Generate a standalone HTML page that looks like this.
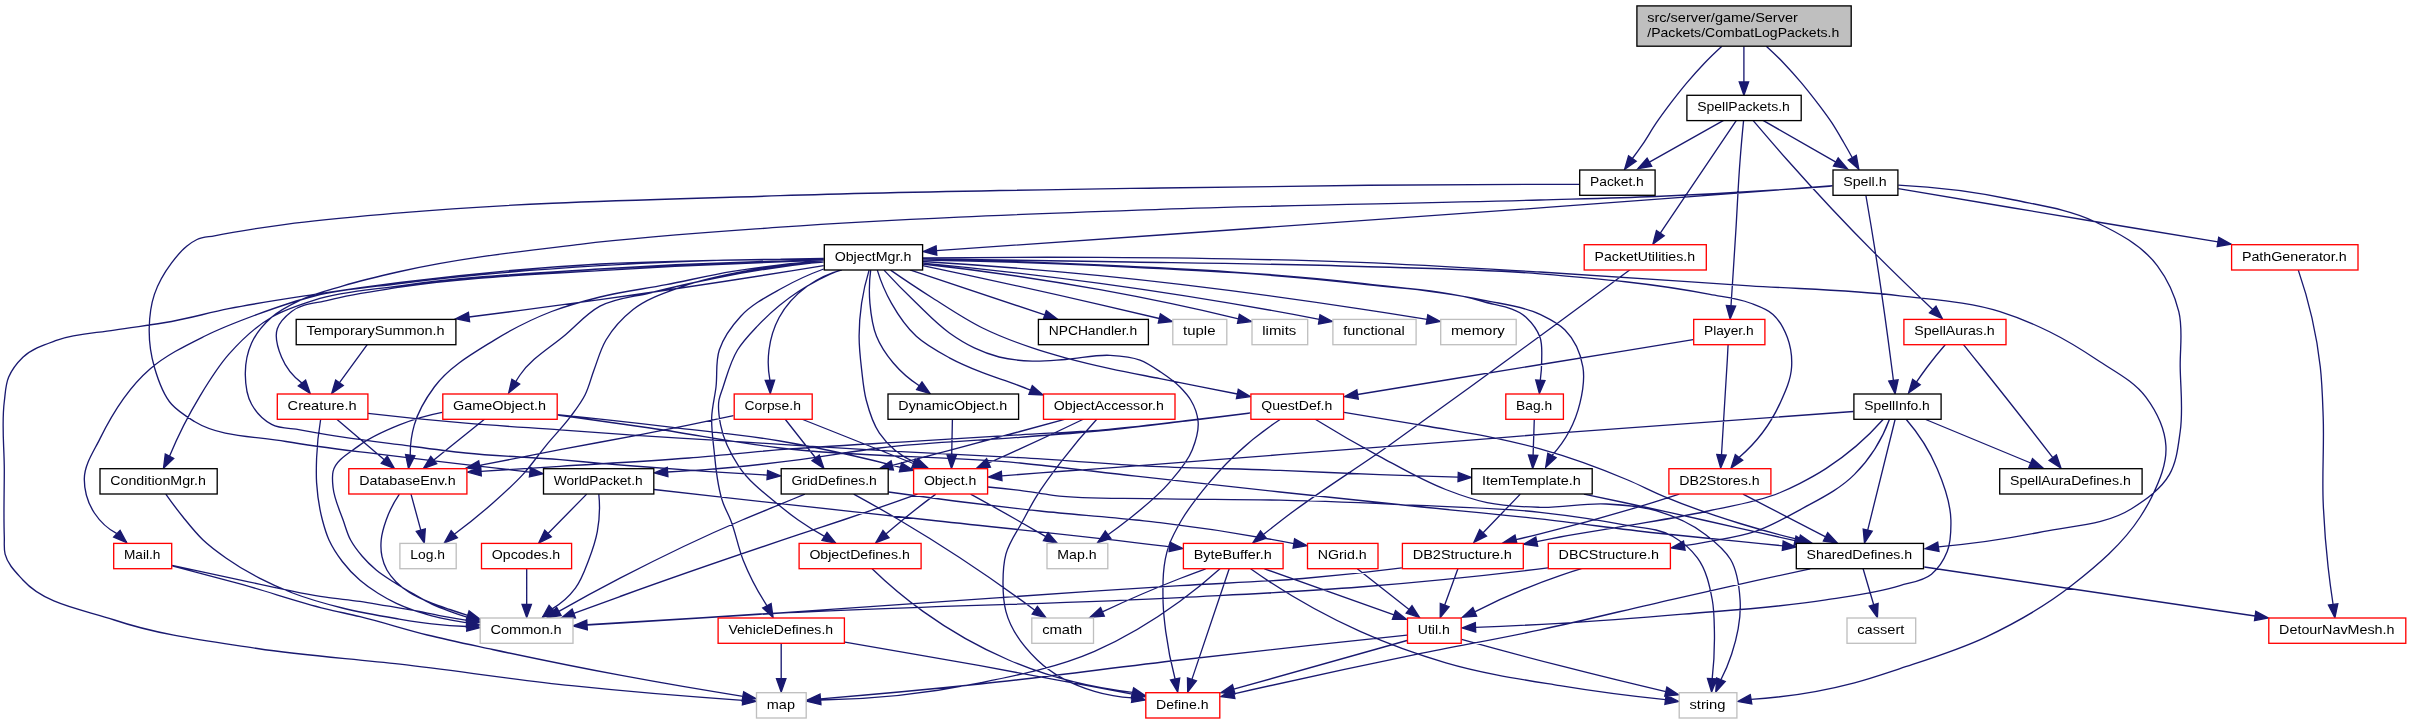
<!DOCTYPE html><html><head><meta charset="utf-8"><style>html,body{margin:0;padding:0;background:#fff}svg{display:block;will-change:transform}</style></head><body><svg width="2411" height="724" viewBox="0 0 2411 724">
<rect width="2411" height="724" fill="#fff"/>
<path d="M1721.9,46.2C1715.9,51.7 1710.0,57.3 1704.4,63.2C1698.4,69.5 1692.6,76.0 1687.0,82.6C1681.7,88.9 1676.6,95.4 1671.6,101.9C1666.3,108.9 1661.0,115.9 1656.1,123.2C1651.4,130.1 1647.3,137.5 1642.6,144.4C1639.3,149.2 1635.9,153.9 1632.4,158.5 M1743.9,46.2L1743.9,81.9 M1766.3,46.2C1772.3,51.7 1778.2,57.3 1783.8,63.2C1789.8,69.5 1795.6,76.0 1801.2,82.6C1806.5,88.9 1811.6,95.4 1816.6,101.9C1821.9,108.9 1827.3,115.9 1832.1,123.2C1836.2,129.5 1839.9,136.0 1843.7,142.5C1846.6,147.5 1849.5,152.6 1852.3,157.7 M1723.6,120.4L1649.4,162.2 M1763.0,120.4L1835.9,162.1 M1736.4,120.4L1660.3,233.1 M1743.6,120.4C1742.3,133.6 1741.1,146.8 1740.1,160.0C1738.2,183.8 1737.3,207.7 1735.8,231.5C1734.3,256.2 1732.6,281.0 1731.0,305.7 M1753.0,120.4C1764.3,133.7 1775.7,146.9 1787.3,160.0C1815.9,192.3 1845.4,223.8 1875.9,254.4C1894.5,273.1 1913.5,291.4 1932.7,309.4 M1579.2,184.3C1566.1,184.3 1553.1,184.3 1540.0,184.3C1413.3,184.4 1286.7,186.1 1160.0,188.0C1033.3,189.9 906.6,191.6 780.0,195.7C653.3,199.9 526.3,201.9 400.0,212.9C361.9,216.2 323.8,219.1 285.9,224.3C262.0,227.6 238.1,231.0 214.4,235.8C208.6,237.0 202.4,237.0 197.0,239.5C193.4,241.2 190.1,243.6 187.0,246.0C181.0,250.7 176.2,256.8 171.6,262.9C164.4,272.5 158.2,283.1 154.4,294.4C150.7,305.4 149.4,317.1 149.2,328.7C149.0,341.6 150.8,354.8 154.4,367.2C158.2,380.3 162.6,394.1 171.6,404.3C177.9,411.4 186.3,416.5 194.4,421.5C221.1,437.7 255.2,436.0 285.9,441.5C318.0,447.2 350.5,450.6 382.9,454.7C410.5,458.2 438.1,461.3 465.7,464.6C487.1,467.1 508.6,469.7 530.0,472.1 M1832.5,185.7C1738.3,193.1 1644.2,200.2 1550.0,207.2C1420.0,216.8 1290.0,225.9 1160.0,235.0C1085.5,240.2 1011.0,245.4 936.5,250.6 M1832.5,186.0C1773.6,190.5 1714.6,194.0 1655.5,196.5C1617.0,198.1 1578.5,198.9 1540.0,200.0C1413.3,203.7 1286.6,204.9 1160.0,209.4C1033.3,213.9 906.5,218.1 780.0,227.2C713.3,232.0 646.4,236.3 580.0,244.3C519.7,251.5 459.2,258.1 400.0,271.5C380.9,275.8 361.8,280.2 343.1,285.8C328.7,290.1 313.8,293.6 300.2,300.1C290.2,304.9 279.9,309.8 271.6,317.2C263.5,324.4 256.1,333.1 251.6,343.0C247.2,352.7 245.2,363.7 245.3,374.4C245.4,384.6 246.7,395.4 251.6,404.3C256.2,412.6 263.3,419.9 271.6,424.4C280.1,428.9 290.5,428.1 300.0,429.8C314.3,432.4 328.7,435.0 343.1,437.2C361.8,440.1 380.6,442.3 399.4,444.7C421.5,447.6 443.5,450.7 465.7,453.0C497.0,456.2 528.6,457.1 560.0,459.7C575.4,461.0 590.9,462.5 606.3,463.8C639.4,466.6 672.5,469.1 705.7,471.3C726.2,472.7 746.8,473.9 767.3,475.1 M1865.9,195.5C1870.5,221.8 1874.8,248.1 1878.8,274.4C1883.5,305.2 1887.7,336.1 1891.7,367.0C1892.3,371.5 1892.9,376.0 1893.4,380.5 M1898.3,185.2C1937.3,187.0 1976.2,192.0 2014.4,200.0C2041.4,205.7 2069.5,209.6 2094.4,221.5C2117.6,232.5 2142.0,245.2 2157.4,265.8C2167.5,279.3 2174.8,295.2 2178.8,311.6C2183.2,329.5 2179.9,348.5 2180.2,367.0C2180.5,388.5 2183.3,410.2 2180.2,431.5C2178.1,446.1 2176.8,461.6 2169.5,474.4C2161.0,489.2 2145.9,499.6 2131.5,508.7C2105.7,525.0 2072.8,525.5 2043.0,531.6C2008.5,538.7 1973.5,543.8 1938.4,546.8 M1898.3,188.6C1963.7,199.7 2029.0,210.6 2094.4,221.5C2135.6,228.3 2176.8,235.2 2218.0,241.9 M823.8,258.5C809.2,258.7 794.6,259.0 780.0,259.3C720.0,260.5 659.9,260.6 600.0,264.0C533.2,267.8 466.4,274.0 400.0,282.4C371.4,286.0 342.9,290.0 314.5,294.4C285.8,298.8 257.1,303.0 228.7,308.7C209.6,312.5 190.8,317.9 171.6,321.5C152.6,325.0 133.4,327.0 114.4,330.1C95.3,333.2 75.4,333.5 57.2,340.1C45.2,344.5 32.2,348.5 22.9,357.3C17.0,363.0 11.8,369.7 8.6,377.3C5.4,384.9 5.4,393.4 4.3,401.5C1.4,424.1 4.3,447.2 4.3,470.0C4.3,492.3 3.5,514.7 4.3,537.0C4.5,542.7 3.7,548.6 5.1,554.2C7.6,564.3 15.9,572.2 22.9,580.0C45.2,604.7 82.9,609.4 114.4,620.0C160.4,635.5 209.3,641.1 257.3,648.5C304.6,655.8 352.5,658.6 400.0,664.2C457.3,670.9 514.3,679.7 571.6,685.7C628.5,691.7 685.6,696.5 742.7,700.3 M823.8,259.0C749.2,258.8 674.5,261.1 600.0,265.6C533.2,269.7 466.4,274.9 400.0,283.5C371.4,287.2 342.5,289.1 314.5,296.0C295.1,300.8 276.1,307.5 257.3,314.4C239.6,320.9 221.9,327.6 205.0,336.0C185.9,345.5 166.2,355.0 150.0,369.0C128.4,387.7 112.6,413.0 100.0,438.6C93.7,451.5 84.5,464.3 84.3,478.7C84.2,490.6 87.9,503.0 94.4,513.0C100.0,521.5 107.9,528.9 116.9,533.7 M823.8,260.2C749.2,261.4 674.5,264.3 600.0,269.0C533.2,273.2 466.2,276.4 400.0,285.8C371.4,289.9 342.1,291.4 314.5,300.1C299.8,304.7 284.9,309.4 271.6,317.2C255.3,326.8 241.2,340.2 228.7,354.4C217.6,367.0 208.8,381.5 200.1,395.8C188.4,415.1 178.1,435.4 169.5,456.2 M823.8,260.7C749.1,262.5 674.5,265.8 600.0,270.6C533.2,274.9 466.1,277.0 400.0,287.2C376.2,290.9 352.1,294.0 328.8,300.1C316.3,303.4 301.8,303.5 291.6,311.5C285.7,316.1 279.7,321.6 277.3,328.7C274.2,337.8 277.9,348.4 281.6,357.3C285.8,367.4 293.1,376.7 302.0,383.1 M823.7,265.6C749.3,277.8 674.7,289.2 600.0,299.6C556.4,305.7 512.7,311.5 469.0,317.0 M823.7,261.0C793.2,263.0 762.8,266.5 732.6,271.4C710.4,275.0 688.4,280.4 666.3,284.7C644.2,289.0 621.8,291.5 600.0,297.0C583.7,301.1 567.3,305.5 551.6,311.5C531.7,319.2 512.5,328.9 494.4,340.1C472.8,353.5 449.4,366.6 434.3,387.0C425.8,398.5 418.2,411.2 414.3,424.9C411.5,434.7 410.1,445.0 410.3,455.2 M823.7,261.5C787.6,265.4 751.6,270.9 716.0,278.0C693.8,282.4 671.7,287.5 649.7,293.0C633.1,297.1 615.1,298.1 600.0,306.2C587.0,313.2 577.1,324.8 565.8,334.4C550.3,347.6 531.4,358.1 520.0,375.0C518.5,377.2 517.1,379.4 515.8,381.7 M823.7,262.0C798.7,263.2 773.7,266.1 749.0,270.5C726.7,274.5 704.2,278.6 682.9,286.3C665.7,292.5 647.4,298.1 633.1,309.5C622.4,318.0 612.9,328.3 606.0,340.0C600.5,349.3 597.8,359.9 594.0,370.0C590.9,378.3 589.0,387.1 585.0,395.0C581.0,403.0 575.4,410.0 570.1,417.2C562.6,427.2 553.7,436.1 545.8,445.8C538.1,455.2 531.2,465.4 523.0,474.4C513.7,484.6 503.3,493.8 492.9,503.0C480.5,514.0 467.6,524.4 454.3,534.2 M823.7,269.0C809.4,274.2 795.6,280.6 782.3,288.0C767.7,296.2 752.2,303.9 740.8,316.2C731.7,326.0 723.5,337.3 719.3,350.0C715.4,361.8 717.5,374.7 716.0,387.0C714.8,397.1 712.1,407.0 711.7,417.2C711.3,428.1 712.8,438.9 714.0,449.7C715.9,467.6 716.9,486.1 723.1,503.0C725.2,508.8 728.3,514.3 730.6,520.0C735.8,532.9 737.9,547.0 743.1,559.9C749.5,575.9 757.6,591.3 767.0,605.8 M840.3,269.8C825.8,275.5 811.8,282.8 798.8,291.3C783.7,301.2 769.8,313.0 757.4,326.1C750.3,333.6 742.9,341.2 737.5,350.0C730.6,361.3 727.3,374.4 723.1,387.0C721.7,391.3 719.8,395.5 719.0,400.0C717.5,408.2 719.0,416.7 720.6,424.9C723.4,439.7 730.5,453.7 738.8,466.3C749.3,482.2 765.3,493.9 780.0,506.0C785.9,510.9 791.9,515.6 798.2,520.0C806.6,525.9 815.4,531.4 824.5,536.3 M842.0,269.8C829.5,273.0 817.5,278.7 807.1,286.3C795.8,294.6 785.6,305.4 779.0,317.8C773.7,327.7 770.4,338.9 769.0,350.0C767.7,360.0 768.0,370.3 769.9,380.2 M869.1,270.1C865.8,280.9 863.3,291.9 861.6,303.1C860.0,314.1 859.1,325.2 859.1,336.3C859.1,347.4 860.3,358.4 861.6,369.4C862.8,379.6 863.6,390.0 866.2,400.0C869.2,411.5 872.7,423.3 879.4,433.1C888.3,446.1 901.6,456.9 916.2,462.9 M870.7,270.1C869.2,281.0 869.0,292.1 869.9,303.1C870.9,314.3 872.3,325.8 876.5,336.3C880.4,346.0 886.4,354.8 893.1,362.8C900.6,371.7 909.5,379.5 919.3,385.8 M877.3,270.1C880.8,281.6 885.5,292.7 891.4,303.1C898.2,315.1 906.2,326.9 916.3,336.3C926.0,345.2 937.8,351.5 949.4,357.8C960.1,363.6 971.3,368.2 982.6,372.7C993.5,377.0 1004.8,380.2 1015.7,384.3C1020.7,386.2 1025.7,388.1 1030.6,390.1 M884.0,270.1C894.4,281.4 905.2,292.4 916.3,303.1C927.0,313.4 937.3,324.4 949.4,333.0C957.3,338.6 965.6,343.8 974.3,347.9C982.3,351.7 990.6,354.8 999.1,357.0C1009.9,359.8 1021.2,360.7 1032.3,361.1C1043.3,361.5 1054.4,360.2 1065.4,359.5C1080.3,358.5 1095.1,354.5 1110.0,355.3C1120.1,355.9 1130.5,356.5 1140.0,360.1C1147.2,362.8 1153.6,367.3 1160.0,371.6C1167.0,376.3 1174.1,381.0 1180.0,387.0C1183.9,391.0 1187.8,395.2 1190.7,400.0C1194.6,406.5 1197.4,414.0 1198.1,421.5C1199.0,431.1 1195.8,440.8 1192.3,449.7C1187.4,462.3 1177.9,472.6 1169.1,482.9C1157.1,497.0 1142.2,508.5 1127.7,520.0C1121.3,525.1 1114.7,530.0 1108.0,534.7 M890.6,270.1C904.5,279.8 918.6,289.1 932.9,298.2C949.2,308.5 965.3,319.5 982.6,328.0C998.6,335.9 1015.4,342.2 1032.3,347.9C1043.2,351.6 1054.3,354.8 1065.4,357.8C1080.2,361.8 1095.1,365.3 1110.0,368.6C1126.6,372.3 1143.3,375.3 1160.0,378.6C1185.8,383.7 1211.6,388.9 1237.4,394.0 M909.9,269.8L1044.8,314.9 M922.7,265.6C981.9,278.0 1041.0,291.0 1100.0,304.6C1119.8,309.2 1139.6,313.8 1159.3,318.5 M922.7,264.0C982.1,270.5 1041.2,279.1 1100.0,289.7C1146.4,298.1 1192.6,307.8 1238.5,318.8 M922.7,263.1C981.9,268.6 1041.1,275.4 1100.0,283.4C1173.4,293.4 1246.5,305.4 1319.3,319.3 M922.7,261.5C981.9,265.1 1041.0,269.8 1100.0,275.6C1186.9,284.2 1273.6,295.7 1360.0,308.8C1382.4,312.2 1404.7,315.7 1427.1,319.4 M922.7,260.0C981.8,260.9 1040.9,262.8 1100.0,265.6C1186.8,269.7 1273.7,273.6 1360.0,283.9C1401.2,288.8 1443.4,289.5 1483.1,301.5C1497.7,305.9 1514.9,306.8 1526.0,317.2C1532.0,322.8 1537.3,329.6 1540.0,337.3C1542.5,344.5 1541.7,352.4 1541.7,360.0C1541.7,366.8 1541.2,373.5 1540.3,380.2 M922.7,259.5C981.8,260.4 1040.9,262.2 1100.0,265.0C1186.8,269.0 1273.7,273.1 1360.0,283.1C1401.1,287.9 1442.6,291.4 1483.1,300.1C1502.2,304.2 1522.4,305.8 1540.0,314.4C1548.8,318.7 1558.1,323.0 1565.0,330.0C1574.6,339.7 1580.6,353.5 1582.9,367.0C1584.9,378.8 1582.8,391.2 1580.0,402.9C1575.4,422.2 1565.4,440.9 1552.0,455.5 M922.7,258.8C981.8,259.6 1040.9,260.5 1100.0,261.5C1186.7,263.0 1273.4,263.7 1360.0,266.5C1420.0,268.4 1480.2,268.9 1540.0,273.8C1596.9,278.5 1654.0,283.4 1710.0,294.4C1723.4,297.0 1737.3,298.1 1750.0,303.0C1758.0,306.1 1766.6,308.7 1773.0,314.4C1779.7,320.4 1784.1,328.9 1787.3,337.3C1790.8,346.7 1792.2,357.0 1791.6,367.0C1790.9,379.5 1785.4,391.5 1780.2,402.9C1770.8,423.6 1756.4,442.7 1739.0,457.5 M922.7,258.0C981.8,257.3 1040.9,257.1 1100.0,257.4C1186.7,257.9 1273.4,259.0 1360.0,262.4C1420.0,264.8 1480.0,268.5 1540.0,272.0C1610.0,276.1 1680.0,281.2 1750.0,285.8C1800.0,289.1 1850.3,289.8 1900.0,295.8C1933.5,299.9 1967.8,301.4 2000.0,311.6C2017.2,317.0 2033.9,324.0 2050.0,332.0C2066.4,340.1 2082.1,349.8 2097.3,360.0C2114.2,371.4 2133.8,380.8 2145.9,397.2C2156.3,411.3 2164.8,428.3 2165.9,445.8C2167.0,463.6 2159.3,481.3 2151.6,497.3C2148.3,504.1 2144.3,510.6 2140.2,517.0C2122.6,544.2 2097.0,565.6 2071.6,585.6C2045.3,606.2 2016.0,622.8 1985.8,637.1C1958.3,650.1 1928.9,659.0 1900.0,668.6C1884.9,673.6 1869.9,678.8 1854.5,682.8C1820.7,691.7 1785.9,697.2 1751.0,699.3 M1630.0,269.8C1603.4,289.5 1576.7,309.1 1550.0,328.7C1523.4,348.2 1496.9,367.6 1470.2,387.0C1443.1,406.7 1416.0,426.4 1388.7,445.8C1354.7,469.9 1318.9,491.7 1285.8,517.0C1278.3,522.8 1270.8,528.6 1263.4,534.5 M2298.3,270.1C2309.1,301.4 2316.6,334.1 2320.3,367.0C2322.2,383.7 2322.6,400.4 2323.2,417.2C2324.2,445.8 2322.0,474.4 2323.2,503.0C2324.1,524.4 2325.7,545.7 2328.1,567.0C2329.5,579.5 2331.2,592.1 2333.1,604.5 M367.4,344.3L339.5,382.7 M1693.2,339.6C1645.5,347.4 1597.7,355.2 1550.0,363.0C1485.8,373.5 1421.7,384.0 1357.5,394.5 M1728.1,344.7C1727.8,349.8 1727.6,354.9 1727.3,360.0C1725.6,391.6 1723.7,423.2 1721.5,454.8 M1945.2,344.7C1938.9,351.9 1932.9,359.4 1927.2,367.0C1923.5,372.0 1919.9,377.0 1916.4,382.1 M1963.5,344.7C1969.5,352.1 1975.5,359.6 1981.5,367.0C2005.6,397.0 2029.3,427.2 2052.8,457.6 M336.5,419.0L384.3,459.8 M320.7,419.0C318.5,431.9 317.1,444.9 316.6,458.0C316.3,466.3 316.1,474.6 316.6,482.9C317.4,495.4 319.2,507.9 322.4,520.0C324.2,526.8 326.1,533.6 329.0,540.0C332.5,547.7 337.2,554.8 342.3,561.5C347.5,568.3 353.5,574.7 360.0,580.3C365.6,585.1 371.7,589.4 378.0,593.3C383.8,596.9 389.7,600.3 395.9,603.2C401.7,606.0 407.8,608.3 413.9,610.4C419.8,612.5 425.8,614.2 431.8,615.8C437.7,617.4 443.8,618.6 449.8,619.8C455.6,620.9 461.4,621.9 467.2,622.8 M367.9,413.3C400.4,417.1 433.1,420.4 465.7,423.2C497.1,425.9 528.6,427.6 560.0,429.8C586.7,431.7 613.3,433.8 640.0,435.6C667.3,437.4 694.7,438.9 722.0,440.6C748.0,442.2 774.0,444.0 800.0,445.6C832.0,447.6 864.0,449.6 896.0,451.4C937.3,453.7 978.7,455.3 1020.0,457.7C1064.2,460.2 1108.4,464.2 1152.6,466.3C1195.0,468.3 1237.5,468.8 1280.0,470.4C1313.1,471.7 1346.3,473.4 1379.4,474.6C1405.6,475.6 1431.9,476.4 1458.1,477.1 M442.2,412.4C427.6,415.2 413.2,419.4 399.4,424.9C385.0,430.7 370.3,436.9 358.0,446.4C348.7,453.5 335.9,459.9 333.1,471.3C331.8,476.6 332.6,482.3 333.1,487.8C334.2,499.0 339.4,509.4 343.1,520.0C345.5,526.7 347.2,533.7 350.6,540.0C353.7,545.8 357.8,551.0 362.0,556.0C366.3,561.1 371.1,565.7 376.2,570.0C382.3,575.1 389.2,579.2 395.9,583.5C401.8,587.2 407.8,590.7 413.9,594.2C419.8,597.6 425.6,601.2 431.8,604.1C437.6,606.9 443.7,609.1 449.8,611.3C455.7,613.5 461.7,615.5 467.7,617.3 M484.8,419.0L433.8,460.1 M557.4,414.6C595.8,418.5 634.2,422.7 672.6,427.3C708.4,431.6 744.4,434.9 780.0,441.0C803.5,445.0 826.8,449.8 850.0,455.0C866.9,458.8 883.7,462.9 900.5,467.3 M557.4,415.0C588.3,419.2 619.2,423.5 650.0,428.0C693.4,434.3 736.5,442.7 780.0,448.0C859.6,457.7 940.2,455.3 1020.0,463.0C1058.7,466.8 1097.3,471.9 1136.0,476.2C1184.0,481.6 1232.0,486.8 1280.0,492.0C1324.2,496.8 1368.4,501.4 1412.6,506.0C1455.1,510.4 1497.6,514.2 1540.0,518.9C1578.7,523.2 1617.3,528.8 1656.0,533.0C1683.6,536.0 1711.2,538.5 1738.8,541.3C1753.5,542.8 1768.1,544.3 1782.8,545.8 M733.5,415.7C702.2,422.3 670.8,428.7 639.4,434.8C613.0,439.9 586.4,444.6 560.0,449.7C533.2,454.8 506.4,460.0 479.6,465.4 M785.0,419.0L815.7,458.0 M801.5,419.0L913.4,463.5 M952.4,419.5L951.7,455.1 M1065.6,419.0C1050.4,423.2 1035.2,427.4 1020.0,431.5C995.3,438.2 970.5,444.8 945.7,451.4C927.9,456.1 910.1,460.8 892.3,465.4 M1083.8,419.0C1062.7,429.2 1041.4,439.2 1020.0,448.9C1009.5,453.7 999.1,458.3 988.5,463.0 M1097.0,419.0C1084.5,432.5 1072.6,446.7 1061.4,461.3C1052.7,472.6 1044.1,484.0 1036.6,496.1C1031.8,503.9 1027.6,512.0 1023.3,520.0C1017.3,531.3 1009.2,541.8 1005.9,554.2C1003.4,563.5 1003.0,573.4 1003.0,583.0C1003.0,592.5 1003.5,602.2 1005.9,611.4C1010.8,630.1 1023.4,646.6 1037.3,660.0C1053.0,675.1 1073.7,685.2 1094.5,691.4C1106.7,695.1 1119.5,697.2 1132.3,697.8 M1250.3,412.9C1228.8,415.6 1207.2,418.2 1185.7,420.7C1158.1,423.9 1130.6,427.4 1102.9,429.8C1075.3,432.1 1047.6,433.1 1020.0,434.8C984.2,437.0 948.4,439.2 912.6,441.4C868.4,444.1 824.1,446.2 780.0,449.7C749.7,452.1 719.4,455.6 689.1,458.0C646.1,461.4 603.0,463.6 560.0,466.3C533.7,468.0 507.3,469.6 481.0,471.3 M1250.3,413.0C1228.8,415.8 1207.2,418.4 1185.7,421.0C1158.1,424.3 1130.5,427.8 1102.9,430.5C1075.3,433.2 1047.6,435.1 1020.0,437.3C973.1,441.0 926.1,442.3 879.4,448.0C852.8,451.2 826.5,456.3 800.0,459.7C768.6,463.7 737.2,467.2 705.7,469.6C693.0,470.6 680.3,471.4 667.6,472.0 M1280.1,419.5C1264.2,429.9 1249.2,441.7 1235.4,454.7C1223.5,466.0 1212.5,478.2 1202.3,491.1C1194.9,500.4 1187.6,509.8 1181.6,520.0C1176.8,528.2 1172.1,536.6 1168.9,545.6C1162.5,563.7 1162.6,583.6 1163.1,602.8C1163.4,612.4 1164.5,621.9 1165.7,631.4C1167.8,647.4 1170.9,663.3 1175.1,679.0 M1314.8,419.0C1336.0,432.1 1357.5,444.5 1379.4,456.3C1401.2,468.0 1422.6,480.7 1445.7,489.5C1459.2,494.7 1472.9,499.7 1487.1,502.7C1504.4,506.4 1522.3,506.8 1540.0,507.3C1562.1,507.9 1584.2,502.8 1606.3,504.0C1623.0,504.9 1640.0,506.0 1656.0,510.7C1673.7,515.9 1691.1,523.5 1705.7,534.7C1715.0,541.8 1724.6,549.4 1730.6,559.5C1737.6,571.4 1739.2,586.2 1740.1,600.0C1741.3,618.2 1737.3,636.8 1731.6,654.2C1728.7,663.0 1725.2,671.5 1720.9,679.7 M1344.1,412.4C1372.5,417.0 1400.8,421.7 1429.1,426.5C1451.2,430.3 1473.5,433.4 1495.4,438.1C1510.4,441.3 1525.3,444.8 1540.0,448.9C1569.9,457.2 1599.2,467.9 1627.8,480.0C1640.1,485.2 1652.0,491.4 1664.3,496.6C1689.0,507.0 1714.4,515.6 1740.0,523.5C1759.5,529.5 1779.3,534.9 1799.2,539.7 M1534.3,419.0L1533.1,455.1 M1853.4,411.5C1755.6,418.2 1657.8,425.3 1560.0,432.9C1510.9,436.7 1461.7,440.9 1412.6,444.7C1368.4,448.1 1324.2,451.3 1280.0,454.7C1237.5,458.0 1195.1,461.4 1152.6,464.6C1130.5,466.3 1108.4,468.0 1086.3,469.6C1070.9,470.7 1055.4,471.7 1040.0,472.9C1027.2,473.9 1014.4,474.9 1001.7,475.9 M1883.1,419.5C1866.5,438.3 1847.0,455.0 1825.9,468.6C1817.5,474.0 1808.8,478.8 1800.0,483.3C1793.5,486.6 1787.0,489.7 1780.3,492.5C1756.6,502.4 1730.8,506.0 1705.7,511.5C1678.3,517.5 1650.5,521.6 1622.9,526.4C1602.0,530.0 1580.9,533.0 1560.0,537.0C1552.2,538.5 1544.5,540.0 1536.7,541.6 M1889.4,419.5C1881.9,439.9 1869.8,459.0 1854.5,474.4C1839.3,489.8 1819.0,499.3 1800.0,509.8C1785.5,517.8 1771.0,526.0 1755.4,531.4C1739.4,536.9 1722.4,539.1 1705.7,542.1C1698.6,543.4 1691.5,544.6 1684.3,545.7 M1895.1,419.5L1867.7,530.1 M1906.3,419.5C1919.0,434.1 1929.6,450.9 1937.2,468.7C1944.2,485.0 1950.5,502.4 1950.9,520.1C1951.1,530.7 1951.1,541.8 1947.2,551.6C1943.8,560.1 1938.6,568.4 1931.5,574.2C1922.9,581.3 1910.7,582.3 1900.0,585.6C1876.0,593.0 1850.7,595.9 1825.9,599.9C1778.6,607.5 1730.7,610.1 1683.0,614.2C1642.0,617.7 1601.0,621.0 1560.0,623.4C1531.8,625.0 1503.7,626.3 1475.5,627.3 M1925.7,419.5L2030.7,463.0 M165.8,494.1C171.3,501.9 177.0,509.6 183.0,517.0C189.4,524.9 195.7,533.0 203.1,540.0C210.2,546.8 218.3,552.6 226.3,558.2C236.8,565.6 248.0,572.2 259.4,578.1C270.2,583.7 281.3,588.6 292.6,593.0C308.7,599.2 325.5,603.8 342.3,608.0C360.0,612.4 377.9,615.5 395.9,618.5C407.8,620.5 419.8,622.6 431.8,623.9C443.5,625.2 455.3,626.1 467.0,626.5 M411.0,494.1L420.8,530.2 M399.4,494.1C393.9,502.1 389.4,510.9 386.2,520.0C383.9,526.5 381.8,533.2 381.2,540.0C380.7,545.5 380.8,551.2 382.0,556.6C383.0,561.3 384.6,565.8 386.9,570.0C389.3,574.3 392.5,578.2 395.9,581.7C399.9,585.8 404.6,589.3 409.4,592.4C416.3,596.9 424.1,600.1 431.8,603.2C437.7,605.6 443.8,607.5 449.8,609.5C455.7,611.5 461.7,613.5 467.7,615.4 M586.7,494.1L548.0,533.5 M598.8,494.1C600.1,506.5 599.6,519.3 597.3,531.6C595.5,541.3 592.2,550.8 588.7,560.0C585.0,569.7 581.6,579.9 575.4,588.2C569.2,596.5 561.2,603.6 552.2,608.9 M654.0,489.5C696.0,494.2 738.0,498.9 780.0,503.6C829.7,509.1 879.4,514.5 929.1,520.0C1006.1,528.5 1083.2,535.9 1160.0,545.6C1163.2,546.0 1166.5,546.4 1169.7,546.8 M804.9,494.1C796.6,497.5 788.3,501.0 780.0,504.4C767.4,509.6 754.7,514.6 742.2,520.0C700.7,537.7 660.0,557.4 620.0,578.2C599.4,588.9 579.1,599.9 558.9,611.4 M853.7,494.1C869.0,502.5 884.3,511.1 899.3,520.0C946.0,547.6 991.3,577.8 1034.8,610.2 M888.5,492.0C938.9,499.3 989.4,505.6 1040.0,511.0C1072.0,514.4 1104.0,516.5 1136.0,520.0C1144.0,520.9 1152.0,521.7 1160.0,522.7C1204.8,528.0 1249.5,535.0 1293.9,543.6 M917.5,494.1C892.8,503.0 867.9,511.6 843.0,520.0C828.7,524.8 814.3,529.4 800.0,534.2C739.8,554.3 679.7,574.9 620.0,596.5C604.6,602.1 589.2,607.7 573.8,613.4 M935.8,494.1C924.5,502.4 913.4,511.1 902.6,520.0C897.0,524.6 891.4,529.3 885.9,534.1 M970.6,494.1C986.1,502.6 1001.6,511.2 1017.0,520.0C1026.6,525.5 1036.2,531.0 1045.8,536.6 M988.0,487.0C998.7,487.9 1009.4,489.0 1020.0,490.3C1031.1,491.7 1042.0,494.0 1053.1,495.3C1086.0,499.3 1119.4,497.8 1152.6,498.6C1195.1,499.6 1237.5,499.1 1280.0,500.2C1324.2,501.3 1368.4,503.1 1412.6,505.2C1455.1,507.2 1497.7,507.6 1540.0,512.3C1567.8,515.4 1595.5,519.2 1622.9,524.7C1639.6,528.1 1657.9,527.7 1672.6,536.3C1682.1,541.8 1690.9,549.1 1697.4,557.9C1706.3,569.9 1709.6,585.4 1712.3,600.0C1714.2,610.3 1714.2,620.9 1714.4,631.4C1714.7,647.2 1714.0,663.0 1712.2,678.7 M1520.3,494.1L1483.1,532.8 M1583.9,494.1C1613.5,500.2 1643.1,506.6 1672.6,513.1C1695.1,518.1 1717.5,523.4 1740.0,528.4C1758.3,532.5 1776.7,536.6 1795.0,540.6 M1679.2,494.1C1633.3,509.1 1586.9,522.4 1540.0,533.9C1532.0,535.9 1524.0,537.8 1516.0,539.6 M1743.0,494.1L1825.6,536.9 M172.1,565.3C195.7,570.6 219.3,575.7 242.9,580.6C270.5,586.4 297.8,593.2 325.7,597.2C337.1,598.9 348.6,599.7 360.0,601.4C369.0,602.7 377.9,604.4 386.9,605.9C395.9,607.4 404.9,608.8 413.9,610.4C422.9,612.1 431.8,614.1 440.8,615.8C449.6,617.4 458.4,618.9 467.2,620.3 M172.1,565.8C195.8,571.9 219.4,578.2 242.9,584.7C270.6,592.4 297.8,601.9 325.7,608.8C337.1,611.6 348.6,613.9 360.0,616.7C382.6,622.2 404.7,629.4 427.3,635.0C448.9,640.3 470.8,644.8 492.6,649.5C535.0,658.6 577.4,667.3 620.0,675.2C660.9,682.8 701.8,689.9 742.9,696.3 M526.7,568.8L526.7,604.3 M872.1,568.8C888.0,584.2 905.0,598.5 923.0,611.4C949.7,630.6 978.5,647.1 1008.7,660.0C1047.9,676.7 1090.1,687.7 1132.5,692.3 M1205.7,568.8C1197.1,571.9 1188.5,575.2 1180.0,578.5C1153.8,588.7 1127.9,599.9 1102.4,611.8 M1220.0,568.8C1207.2,580.3 1193.9,591.2 1180.0,601.3C1153.3,620.8 1124.8,638.2 1094.5,651.4C1058.2,667.2 1018.9,675.0 980.1,682.8C927.6,693.4 874.0,699.2 820.4,700.0 M1229.2,568.8L1191.9,679.4 M1264.4,568.8L1394.0,614.9 M1250.6,568.8C1284.9,593.1 1321.7,614.2 1360.1,631.4C1387.9,643.9 1416.7,654.3 1445.9,662.8C1483.1,673.7 1521.7,679.4 1560.0,685.7C1595.0,691.5 1630.2,696.1 1665.5,699.7 M1357.3,568.8L1409.1,609.4 M1401.9,567.9C1369.0,572.2 1336.0,575.7 1303.0,578.5C1262.1,582.0 1221.0,583.1 1180.0,585.6C1046.6,593.6 913.4,604.4 780.0,612.8C726.7,616.2 673.3,619.3 620.0,622.6C609.0,623.3 598.0,624.0 587.0,624.7 M1548.0,567.9C1485.5,575.6 1422.8,582.0 1360.0,587.0C1300.1,591.8 1240.0,594.4 1180.0,597.6C1046.8,604.6 913.2,605.9 780.0,613.2C726.6,616.1 673.3,619.6 620.0,623.0C609.0,623.7 598.0,624.4 587.0,625.1 M1457.9,568.8L1444.7,605.1 M1581.4,568.7C1574.2,570.9 1567.1,573.2 1560.0,575.6C1530.8,585.6 1502.2,597.8 1474.7,611.9 M1810.2,568.8C1764.3,578.8 1718.4,588.9 1672.6,599.3C1628.4,609.3 1584.4,620.4 1540.0,629.9C1499.2,638.6 1458.1,645.8 1417.3,654.2C1356.0,666.8 1294.9,680.0 1233.9,693.8 M1863.1,568.8L1873.7,604.8 M1924.3,567.0L2255.1,616.0 M781.2,643.1L781.2,678.7 M844.9,642.2C890.0,649.8 935.0,657.6 980.0,665.7C1030.8,674.8 1081.6,684.3 1132.3,694.2 M1407.0,635.1C1331.3,643.0 1255.6,651.3 1180.0,660.0C1113.3,667.7 1046.8,677.0 980.0,684.0C926.9,689.6 873.7,694.5 820.4,698.8 M1407.0,640.5L1233.7,689.2 M1461.6,639.4C1494.3,648.5 1527.1,657.3 1560.0,665.7C1595.2,674.7 1630.4,683.4 1665.8,691.6" fill="none" stroke="#191970" stroke-width="1.33"/>
<path d="M1628.6,155.8L1624.6,169.3L1636.2,161.3Z M1739.2,81.9L1743.9,95.2L1748.6,81.9Z M1848.2,160.0L1858.8,169.3L1856.3,155.4Z M1647.1,158.1L1637.8,168.7L1651.7,166.2Z M1833.5,166.1L1847.4,168.7L1838.2,158.0Z M1656.5,230.5L1652.9,244.1L1664.2,235.7Z M1726.3,305.4L1730.1,319.0L1735.6,306.0Z M1929.5,312.8L1942.3,318.7L1936.0,306.1Z M529.4,476.8L543.2,473.7L530.5,467.5Z M936.1,245.9L923.2,251.5L936.8,255.2Z M767.0,479.7L780.6,475.9L767.6,470.4Z M1888.8,381.1L1895.1,393.7L1898.1,379.9Z M1937.7,542.2L1925.2,548.7L1939.0,551.4Z M2217.2,246.5L2231.1,244.1L2218.7,237.3Z M742.4,704.9L756.0,701.4L743.1,695.6Z M113.7,537.1L126.7,542.7L120.1,530.3Z M165.3,454.1L163.5,468.1L173.7,458.3Z M298.3,386.0L310.2,393.5L305.6,380.2Z M468.4,312.3L455.8,318.7L469.6,321.6Z M405.6,454.6L408.5,468.4L414.9,455.8Z M511.9,379.2L508.7,392.9L519.7,384.1Z M451.2,530.7L444.3,543.0L457.4,537.7Z M762.8,608.0L773.1,617.6L771.1,603.6Z M822.0,540.3L835.8,543.3L827.0,532.3Z M765.2,380.3L770.3,393.5L774.6,380.1Z M914.3,467.2L928.3,468.4L918.1,458.7Z M916.6,389.6L930.1,393.5L922.0,382.0Z M1028.9,394.4L1043.0,394.9L1032.3,385.7Z M1105.2,531.0L1097.4,542.7L1110.8,538.5Z M1236.4,398.6L1250.4,396.6L1238.3,389.4Z M1043.3,319.3L1057.4,319.1L1046.3,310.5Z M1158.3,323.0L1172.3,321.5L1160.4,313.9Z M1237.5,323.3L1251.5,321.5L1239.4,314.2Z M1318.5,324.0L1332.4,321.5L1320.0,314.7Z M1426.3,324.0L1440.2,321.5L1427.8,314.8Z M1535.7,379.9L1539.4,393.5L1545.0,380.6Z M1547.8,453.3L1545.7,467.2L1556.1,457.7Z M1735.3,454.7L1731.0,468.1L1742.7,460.3Z M1750.3,694.7L1737.9,701.4L1751.8,703.9Z M1260.5,530.8L1252.9,542.7L1266.3,538.2Z M2328.5,605.1L2334.9,617.7L2337.8,603.9Z M335.7,380.0L331.7,393.5L343.3,385.5Z M1356.8,389.8L1344.4,396.6L1358.3,399.1Z M1716.8,454.5L1720.7,468.1L1726.2,455.1Z M1912.6,379.4L1908.6,392.9L1920.2,384.8Z M2049.1,460.5L2061.0,468.1L2056.4,454.8Z M381.3,463.3L394.4,468.4L387.3,456.2Z M466.4,627.4L480.3,625.0L468.0,618.2Z M1458.0,481.7L1471.4,477.5L1458.3,472.4Z M466.2,621.7L480.3,621.5L469.2,612.9Z M430.8,456.4L423.4,468.4L436.7,463.7Z M899.4,471.8L913.4,470.4L901.6,462.8Z M1782.3,550.4L1796.0,547.1L1783.2,541.1Z M478.7,460.8L466.5,467.9L480.4,469.9Z M812.0,460.8L823.9,468.4L819.3,455.1Z M911.7,467.8L925.8,468.4L915.2,459.1Z M947.1,455.0L951.5,468.4L956.4,455.2Z M891.1,460.9L879.4,468.8L893.4,469.9Z M986.6,458.7L976.4,468.4L990.4,467.2Z M1131.5,702.4L1145.4,700.0L1133.1,693.2Z M480.7,466.6L467.7,472.1L481.3,475.9Z M667.3,467.4L654.3,472.9L667.9,476.7Z M1170.5,679.9L1177.7,692.0L1179.7,678.0Z M1716.6,677.9L1715.8,692.0L1725.2,681.5Z M1797.9,544.2L1812.0,543.2L1800.4,535.2Z M1528.5,455.0L1532.7,468.4L1537.8,455.3Z M1001.3,471.3L988.4,477.0L1002.0,480.6Z M1535.8,537.0L1523.7,544.2L1537.7,546.2Z M1683.5,541.1L1671.2,547.9L1685.1,550.3Z M1863.2,529.0L1864.5,543.0L1872.2,531.2Z M1475.3,622.6L1462.2,627.9L1475.7,632.0Z M2028.9,467.3L2043.0,468.1L2032.5,458.7Z M466.7,631.2L480.3,627.5L467.4,621.9Z M416.3,531.4L424.3,543.0L425.3,528.9Z M466.2,619.8L480.3,619.5L469.1,610.9Z M544.7,530.2L538.7,543.0L551.3,536.8Z M549.1,605.4L542.3,617.7L555.3,612.3Z M1169.1,551.5L1182.9,548.5L1170.3,542.2Z M556.7,607.3L547.2,617.7L561.1,615.5Z M1032.2,614.1L1045.9,617.6L1037.4,606.3Z M1293.1,548.2L1307.0,545.6L1294.6,538.9Z M572.2,609.0L561.3,618.0L575.4,617.8Z M882.9,530.5L875.8,542.7L889.0,537.7Z M1043.4,540.7L1057.3,543.3L1048.1,532.6Z M1707.5,678.5L1711.6,692.0L1716.9,678.9Z M1479.7,529.6L1473.9,542.4L1486.5,536.0Z M1794.0,545.2L1808.0,543.5L1796.0,536.1Z M1515.0,535.1L1503.1,542.7L1517.1,544.2Z M1823.4,541.0L1837.4,543.0L1827.7,532.7Z M466.4,624.9L480.3,622.5L468.0,615.7Z M742.1,700.9L756.0,698.6L743.7,691.7Z M522.0,604.3L526.7,617.6L531.4,604.3Z M1131.4,696.9L1145.4,695.7L1133.7,687.8Z M1100.6,607.6L1090.2,617.1L1104.3,616.1Z M819.9,695.3L807.2,701.4L820.9,704.6Z M1187.5,677.9L1187.7,692.0L1196.4,680.9Z M1392.4,619.3L1406.5,619.4L1395.5,610.5Z M1664.9,704.3L1678.7,701.4L1666.1,695.0Z M1406.2,613.1L1419.6,617.6L1412.0,605.7Z M586.7,620.0L573.7,625.5L587.3,629.3Z M586.7,620.5L573.7,626.0L587.3,629.8Z M1440.3,603.5L1440.2,617.6L1449.1,606.7Z M1472.9,607.6L1462.5,617.1L1476.6,616.2Z M1232.9,689.2L1220.9,696.6L1234.9,698.4Z M1869.2,606.1L1877.4,617.6L1878.1,603.5Z M2254.5,620.6L2268.3,617.9L2255.8,611.3Z M776.5,678.7L781.2,692.0L785.9,678.7Z M1131.5,698.7L1145.4,696.6L1133.2,689.6Z M820.0,694.1L807.2,700.0L820.9,703.4Z M1232.4,684.7L1220.9,692.8L1235.0,693.7Z M1664.7,696.2L1678.7,694.8L1666.9,687.1Z" fill="#191970" stroke="#191970" stroke-width="1.33"/>
<rect x="1636.9" y="5.9" width="214.3" height="40.3" fill="#bfbfbf" stroke="#000" stroke-width="1.33"/>
<g font-family="'Liberation Sans',sans-serif" font-size="13.2px" fill="#000">
<text x="1647.3" y="22" textLength="150.5" lengthAdjust="spacingAndGlyphs">src/server/game/Server</text>
<text x="1647.3" y="37" textLength="192" lengthAdjust="spacingAndGlyphs">/Packets/CombatLogPackets.h</text>
<rect x="1686.9" y="95.3" width="114.3" height="25.3" fill="#fff" stroke="#000000" stroke-width="1.33"/>
<text x="1743.5" y="111.0" text-anchor="middle" textLength="92.7" lengthAdjust="spacingAndGlyphs">SpellPackets.h</text>
<rect x="1579.7" y="170.0" width="75.4" height="25.3" fill="#fff" stroke="#000000" stroke-width="1.33"/>
<text x="1616.9" y="186.0" text-anchor="middle" textLength="53.8" lengthAdjust="spacingAndGlyphs">Packet.h</text>
<rect x="1833.0" y="170.0" width="64.9" height="25.3" fill="#fff" stroke="#000000" stroke-width="1.33"/>
<text x="1864.9" y="186.0" text-anchor="middle" textLength="43.3" lengthAdjust="spacingAndGlyphs">Spell.h</text>
<rect x="824.3" y="244.7" width="98.3" height="25.3" fill="#fff" stroke="#000000" stroke-width="1.33"/>
<text x="873.0" y="261.0" text-anchor="middle" textLength="76.7" lengthAdjust="spacingAndGlyphs">ObjectMgr.h</text>
<rect x="1584.2" y="244.7" width="122.1" height="25.3" fill="#fff" stroke="#ff0000" stroke-width="1.33"/>
<text x="1644.8" y="261.0" text-anchor="middle" textLength="100.5" lengthAdjust="spacingAndGlyphs">PacketUtilities.h</text>
<rect x="2231.6" y="244.7" width="126.4" height="25.3" fill="#fff" stroke="#ff0000" stroke-width="1.33"/>
<text x="2294.3" y="261.0" text-anchor="middle" textLength="104.8" lengthAdjust="spacingAndGlyphs">PathGenerator.h</text>
<rect x="296.2" y="319.4" width="159.7" height="25.3" fill="#fff" stroke="#000000" stroke-width="1.33"/>
<text x="375.6" y="335.0" text-anchor="middle" textLength="138.1" lengthAdjust="spacingAndGlyphs">TemporarySummon.h</text>
<rect x="1038.4" y="319.4" width="110.0" height="25.3" fill="#fff" stroke="#000000" stroke-width="1.33"/>
<text x="1092.9" y="335.0" text-anchor="middle" textLength="88.4" lengthAdjust="spacingAndGlyphs">NPCHandler.h</text>
<rect x="1172.8" y="319.4" width="54.0" height="25.3" fill="#fff" stroke="#bfbfbf" stroke-width="1.33"/>
<text x="1199.3" y="335.0" text-anchor="middle" textLength="32.4" lengthAdjust="spacingAndGlyphs">tuple</text>
<rect x="1252.0" y="319.4" width="55.7" height="25.3" fill="#fff" stroke="#bfbfbf" stroke-width="1.33"/>
<text x="1279.3" y="335.0" text-anchor="middle" textLength="34.1" lengthAdjust="spacingAndGlyphs">limits</text>
<rect x="1332.9" y="319.4" width="83.2" height="25.3" fill="#fff" stroke="#bfbfbf" stroke-width="1.33"/>
<text x="1374.0" y="335.0" text-anchor="middle" textLength="61.6" lengthAdjust="spacingAndGlyphs">functional</text>
<rect x="1440.7" y="319.4" width="75.5" height="25.3" fill="#fff" stroke="#bfbfbf" stroke-width="1.33"/>
<text x="1477.9" y="335.0" text-anchor="middle" textLength="53.9" lengthAdjust="spacingAndGlyphs">memory</text>
<rect x="1693.7" y="319.4" width="71.2" height="25.3" fill="#fff" stroke="#ff0000" stroke-width="1.33"/>
<text x="1728.8" y="335.0" text-anchor="middle" textLength="49.6" lengthAdjust="spacingAndGlyphs">Player.h</text>
<rect x="1903.9" y="319.4" width="102.1" height="25.3" fill="#fff" stroke="#ff0000" stroke-width="1.33"/>
<text x="1954.5" y="335.0" text-anchor="middle" textLength="80.5" lengthAdjust="spacingAndGlyphs">SpellAuras.h</text>
<rect x="277.3" y="394.0" width="90.6" height="25.3" fill="#fff" stroke="#ff0000" stroke-width="1.33"/>
<text x="322.1" y="410.0" text-anchor="middle" textLength="69.0" lengthAdjust="spacingAndGlyphs">Creature.h</text>
<rect x="442.8" y="394.0" width="114.4" height="25.3" fill="#fff" stroke="#ff0000" stroke-width="1.33"/>
<text x="499.5" y="410.0" text-anchor="middle" textLength="92.8" lengthAdjust="spacingAndGlyphs">GameObject.h</text>
<rect x="734.2" y="394.0" width="78.0" height="25.3" fill="#fff" stroke="#ff0000" stroke-width="1.33"/>
<text x="772.7" y="410.0" text-anchor="middle" textLength="56.4" lengthAdjust="spacingAndGlyphs">Corpse.h</text>
<rect x="888.0" y="394.0" width="130.6" height="25.3" fill="#fff" stroke="#000000" stroke-width="1.33"/>
<text x="952.8" y="410.0" text-anchor="middle" textLength="109.0" lengthAdjust="spacingAndGlyphs">DynamicObject.h</text>
<rect x="1043.5" y="394.0" width="131.5" height="25.3" fill="#fff" stroke="#ff0000" stroke-width="1.33"/>
<text x="1108.8" y="410.0" text-anchor="middle" textLength="109.9" lengthAdjust="spacingAndGlyphs">ObjectAccessor.h</text>
<rect x="1250.9" y="394.0" width="92.7" height="25.3" fill="#fff" stroke="#ff0000" stroke-width="1.33"/>
<text x="1296.8" y="410.0" text-anchor="middle" textLength="71.1" lengthAdjust="spacingAndGlyphs">QuestDef.h</text>
<rect x="1505.8" y="394.0" width="57.6" height="25.3" fill="#fff" stroke="#ff0000" stroke-width="1.33"/>
<text x="1534.1" y="410.0" text-anchor="middle" textLength="36.0" lengthAdjust="spacingAndGlyphs">Bag.h</text>
<rect x="1853.9" y="394.0" width="87.2" height="25.3" fill="#fff" stroke="#000000" stroke-width="1.33"/>
<text x="1897.0" y="410.0" text-anchor="middle" textLength="65.6" lengthAdjust="spacingAndGlyphs">SpellInfo.h</text>
<rect x="100.0" y="468.7" width="117.2" height="25.3" fill="#fff" stroke="#000000" stroke-width="1.33"/>
<text x="158.1" y="485.0" text-anchor="middle" textLength="95.6" lengthAdjust="spacingAndGlyphs">ConditionMgr.h</text>
<rect x="348.8" y="468.7" width="118.1" height="25.3" fill="#fff" stroke="#ff0000" stroke-width="1.33"/>
<text x="407.4" y="485.0" text-anchor="middle" textLength="96.5" lengthAdjust="spacingAndGlyphs">DatabaseEnv.h</text>
<rect x="543.5" y="468.7" width="110.3" height="25.3" fill="#fff" stroke="#000000" stroke-width="1.33"/>
<text x="598.2" y="485.0" text-anchor="middle" textLength="88.7" lengthAdjust="spacingAndGlyphs">WorldPacket.h</text>
<rect x="781.2" y="468.7" width="107.0" height="25.3" fill="#fff" stroke="#000000" stroke-width="1.33"/>
<text x="834.2" y="485.0" text-anchor="middle" textLength="85.4" lengthAdjust="spacingAndGlyphs">GridDefines.h</text>
<rect x="913.6" y="468.7" width="74.0" height="25.3" fill="#fff" stroke="#ff0000" stroke-width="1.33"/>
<text x="950.1" y="485.0" text-anchor="middle" textLength="52.4" lengthAdjust="spacingAndGlyphs">Object.h</text>
<rect x="1471.7" y="468.7" width="120.5" height="25.3" fill="#fff" stroke="#000000" stroke-width="1.33"/>
<text x="1531.4" y="485.0" text-anchor="middle" textLength="98.9" lengthAdjust="spacingAndGlyphs">ItemTemplate.h</text>
<rect x="1668.9" y="468.7" width="102.0" height="25.3" fill="#fff" stroke="#ff0000" stroke-width="1.33"/>
<text x="1719.4" y="485.0" text-anchor="middle" textLength="80.4" lengthAdjust="spacingAndGlyphs">DB2Stores.h</text>
<rect x="1999.7" y="468.7" width="142.4" height="25.3" fill="#fff" stroke="#000000" stroke-width="1.33"/>
<text x="2070.4" y="485.0" text-anchor="middle" textLength="120.8" lengthAdjust="spacingAndGlyphs">SpellAuraDefines.h</text>
<rect x="113.7" y="543.4" width="58.0" height="25.3" fill="#fff" stroke="#ff0000" stroke-width="1.33"/>
<text x="142.2" y="559.0" text-anchor="middle" textLength="36.4" lengthAdjust="spacingAndGlyphs">Mail.h</text>
<rect x="399.9" y="543.4" width="56.3" height="25.3" fill="#fff" stroke="#bfbfbf" stroke-width="1.33"/>
<text x="427.6" y="559.0" text-anchor="middle" textLength="34.7" lengthAdjust="spacingAndGlyphs">Log.h</text>
<rect x="481.5" y="543.4" width="90.1" height="25.3" fill="#fff" stroke="#ff0000" stroke-width="1.33"/>
<text x="526.0" y="559.0" text-anchor="middle" textLength="68.5" lengthAdjust="spacingAndGlyphs">Opcodes.h</text>
<rect x="799.1" y="543.4" width="122.0" height="25.3" fill="#fff" stroke="#ff0000" stroke-width="1.33"/>
<text x="859.6" y="559.0" text-anchor="middle" textLength="100.4" lengthAdjust="spacingAndGlyphs">ObjectDefines.h</text>
<rect x="1047.0" y="543.4" width="60.8" height="25.3" fill="#fff" stroke="#bfbfbf" stroke-width="1.33"/>
<text x="1076.9" y="559.0" text-anchor="middle" textLength="39.2" lengthAdjust="spacingAndGlyphs">Map.h</text>
<rect x="1183.4" y="543.4" width="99.7" height="25.3" fill="#fff" stroke="#ff0000" stroke-width="1.33"/>
<text x="1232.8" y="559.0" text-anchor="middle" textLength="78.1" lengthAdjust="spacingAndGlyphs">ByteBuffer.h</text>
<rect x="1307.5" y="543.4" width="70.5" height="25.3" fill="#fff" stroke="#ff0000" stroke-width="1.33"/>
<text x="1342.2" y="559.0" text-anchor="middle" textLength="48.9" lengthAdjust="spacingAndGlyphs">NGrid.h</text>
<rect x="1402.4" y="543.4" width="120.9" height="25.3" fill="#fff" stroke="#ff0000" stroke-width="1.33"/>
<text x="1462.3" y="559.0" text-anchor="middle" textLength="99.3" lengthAdjust="spacingAndGlyphs">DB2Structure.h</text>
<rect x="1548.3" y="543.4" width="122.1" height="25.3" fill="#fff" stroke="#ff0000" stroke-width="1.33"/>
<text x="1608.8" y="559.0" text-anchor="middle" textLength="100.5" lengthAdjust="spacingAndGlyphs">DBCStructure.h</text>
<rect x="1796.3" y="543.4" width="127.2" height="25.3" fill="#fff" stroke="#000000" stroke-width="1.33"/>
<text x="1859.4" y="559.0" text-anchor="middle" textLength="105.6" lengthAdjust="spacingAndGlyphs">SharedDefines.h</text>
<rect x="480.2" y="618.0" width="92.8" height="25.3" fill="#fff" stroke="#bfbfbf" stroke-width="1.33"/>
<text x="526.1" y="634.0" text-anchor="middle" textLength="71.2" lengthAdjust="spacingAndGlyphs">Common.h</text>
<rect x="718.1" y="618.0" width="126.3" height="25.3" fill="#fff" stroke="#ff0000" stroke-width="1.33"/>
<text x="780.8" y="634.0" text-anchor="middle" textLength="104.7" lengthAdjust="spacingAndGlyphs">VehicleDefines.h</text>
<rect x="1031.8" y="618.0" width="61.7" height="25.3" fill="#fff" stroke="#bfbfbf" stroke-width="1.33"/>
<text x="1062.2" y="634.0" text-anchor="middle" textLength="40.1" lengthAdjust="spacingAndGlyphs">cmath</text>
<rect x="1407.5" y="618.0" width="53.7" height="25.3" fill="#fff" stroke="#ff0000" stroke-width="1.33"/>
<text x="1433.8" y="634.0" text-anchor="middle" textLength="32.1" lengthAdjust="spacingAndGlyphs">Util.h</text>
<rect x="1847.0" y="618.0" width="68.7" height="25.3" fill="#fff" stroke="#bfbfbf" stroke-width="1.33"/>
<text x="1880.8" y="634.0" text-anchor="middle" textLength="47.1" lengthAdjust="spacingAndGlyphs">cassert</text>
<rect x="2268.8" y="618.0" width="137.0" height="25.3" fill="#fff" stroke="#ff0000" stroke-width="1.33"/>
<text x="2336.8" y="634.0" text-anchor="middle" textLength="115.4" lengthAdjust="spacingAndGlyphs">DetourNavMesh.h</text>
<rect x="756.5" y="692.7" width="49.7" height="25.3" fill="#fff" stroke="#bfbfbf" stroke-width="1.33"/>
<text x="780.9" y="709.0" text-anchor="middle" textLength="28.1" lengthAdjust="spacingAndGlyphs">map</text>
<rect x="1145.8" y="692.7" width="74.0" height="25.3" fill="#fff" stroke="#ff0000" stroke-width="1.33"/>
<text x="1182.3" y="709.0" text-anchor="middle" textLength="52.4" lengthAdjust="spacingAndGlyphs">Define.h</text>
<rect x="1679.2" y="692.7" width="57.7" height="25.3" fill="#fff" stroke="#bfbfbf" stroke-width="1.33"/>
<text x="1707.5" y="709.0" text-anchor="middle" textLength="36.1" lengthAdjust="spacingAndGlyphs">string</text>
</g></svg></body></html>
